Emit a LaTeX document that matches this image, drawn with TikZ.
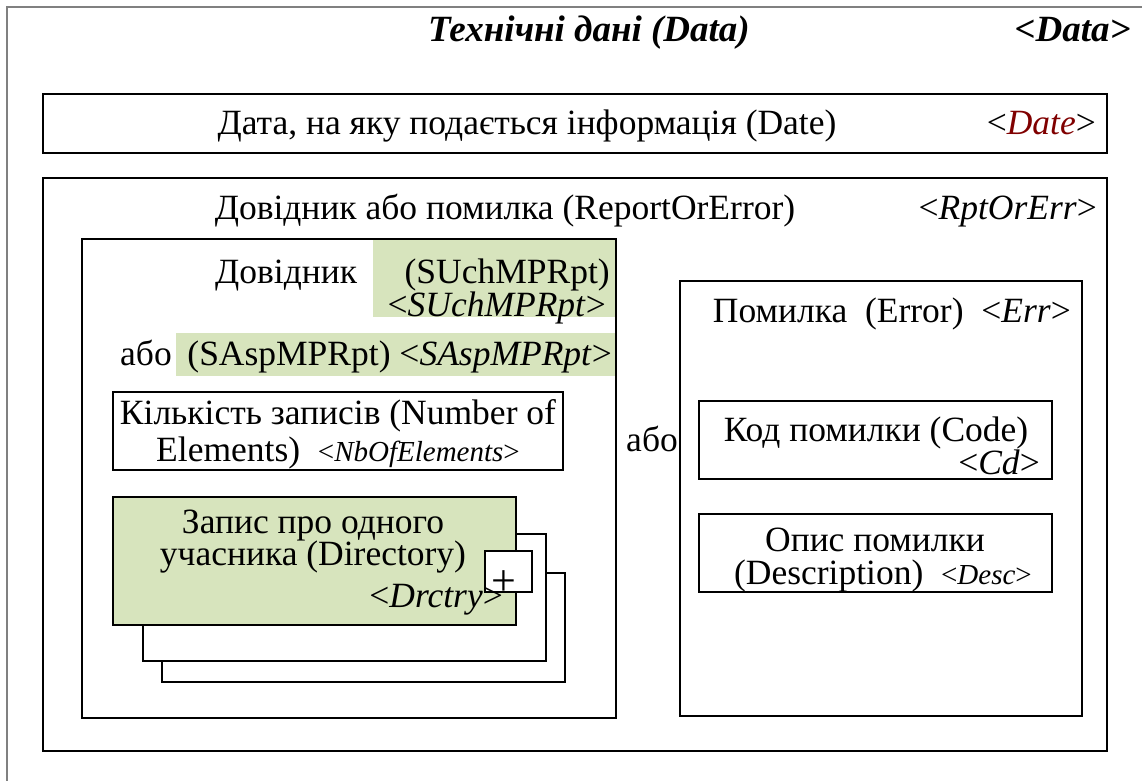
\documentclass[tikz,border=0pt]{standalone}
\usepackage{fontspec}
\setmainfont{Liberation Serif}
\usepackage{xcolor}
\usepackage{tikz}
\usetikzlibrary{positioning}

\definecolor{panelgreen}{RGB}{215,228,189}
\definecolor{datered}{RGB}{128,0,0}
\definecolor{framegray}{RGB}{128,128,128}
\newcommand{\mainsize}{\fontsize{35.5}{37}\selectfont}
\newcommand{\titlesize}{\fontsize{37}{39}\selectfont}
\newcommand{\smallsize}{\fontsize{29}{31}\selectfont}
\newcommand{\xmltag}[1]{<\textit{#1}>}

\begin{document}
\begin{tikzpicture}[x=1pt, y=-1pt]
    \tikzstyle{frame} = [rectangle, draw, line width=1.2pt, anchor=north west, inner sep=0pt, outer sep=0pt]
    \tikzstyle{greenfill} = [rectangle, fill=panelgreen, anchor=north west, inner sep=0pt, outer sep=0pt]
    \tikzstyle{txt} = [inner sep=0pt, font=\mainsize]
    \useasboundingbox (0,0) rectangle (1142,780);

    % Outer frame (runs off the page on the right and bottom)
    \draw[framegray, line width=2pt] (7,800) -- (7,7) -- (1160,7);
    \node[txt, font=\titlesize\bfseries\itshape, anchor=base] (title) at (589,41) {Технічні дані (Data)};
    \node[txt, font=\titlesize\bfseries\itshape, anchor=base east] (titletag) at (1131,41) {<Data>};

    % Date
    \node[frame, minimum width=1064pt, minimum height=59pt] (date) at (43,94) {};
    \node[txt, anchor=base] (datetext) at (527,134) {Дата, на яку подається інформація (Date)};
    \node[txt, anchor=base east] (datetag) at (1096,134) {<\textit{\textcolor{datered}{Date}}>};

    % Report or error
    \node[frame, minimum width=1064pt, minimum height=573pt] (report) at (43,178) {};
    \node[txt, anchor=base] (reporttext) at (505,219) {Довідник або помилка (ReportOrError)};
    \node[txt, anchor=base east] (reporttag) at (1097,219) {\xmltag{RptOrErr}};

    % Report branch
    \node[greenfill, minimum width=243pt, minimum height=78pt] (refshade) at (373,239) {};
    \node[greenfill, minimum width=440pt, minimum height=43pt] (altshade) at (176,333) {};
    \node[frame, minimum width=534pt, minimum height=479pt] (ref) at (82,239) {};
    \node[txt, anchor=base west] (reftext) at (215,283) {Довідник};
    \node[txt, anchor=base east] (refname) at (610,283) {(SUchMPRpt)};
    \node[txt, anchor=base east] (reftag) at (606,316) {\xmltag{SUchMPRpt}};
    \node[txt, anchor=base west] (altor) at (120,365) {або};
    \node[txt, anchor=base east] (altname) at (612,365) {(SAspMPRpt) \xmltag{SAspMPRpt}};

    \node[frame, minimum width=450pt, minimum height=78pt] (count) at (113,392) {};
    \node[txt, anchor=base] (countline1) at (338,424) {Кількість записів (Number of};
    \node[txt, anchor=base] (countline2) at (338,461) {Elements)\ \ {\smallsize\xmltag{NbOfElements}}};

    % Directory records (stacked)
    \node[frame, fill=white, minimum width=403pt, minimum height=109pt] (dirback2) at (162,573) {};
    \node[frame, fill=white, minimum width=403pt, minimum height=127pt] (dirback1) at (143,534) {};
    \node[frame, fill=panelgreen, minimum width=403pt, minimum height=128pt] (dir) at (113,497) {};
    \node[frame, fill=white, minimum width=47pt, minimum height=41pt] (plus) at (485,551) {};
    \node[txt, font=\fontsize{44}{44}\selectfont] (plussign) at (504,583) {+};
    \node[txt, anchor=base] (dirline1) at (313,533) {Запис про одного};
    \node[txt, anchor=base] (dirline2) at (313,565) {учасника (Directory)};
    \node[txt, anchor=base east] (dirtag) at (503,607) {\xmltag{Drctry}};

    % Error branch
    \node[frame, minimum width=402pt, minimum height=435pt] (err) at (680,281) {};
    \node[txt, anchor=base east] (errtext) at (1071,322) {Помилка\ \ (Error)\ \ \xmltag{Err}};
    \node[txt, anchor=base east] (erroor) at (678,451) {або};

    \node[frame, minimum width=353pt, minimum height=78pt] (code) at (699,401) {};
    \node[txt, anchor=base] (codetext) at (876,441) {Код помилки (Code)};
    \node[txt, anchor=base east] (codetag) at (1040,474) {\xmltag{Cd}};

    \node[frame, minimum width=353pt, minimum height=78pt] (desc) at (699,514) {};
    \node[txt, anchor=base] (descline1) at (875,551) {Опис помилки};
    \node[txt, anchor=base east] (descline2) at (1032,584) {(Description)\ \ {\smallsize\xmltag{Desc}}};

\end{tikzpicture}
\end{document}
